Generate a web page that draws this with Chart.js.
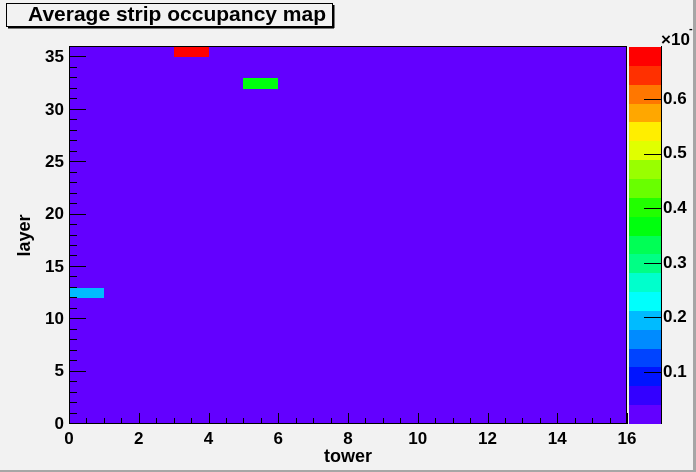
<!DOCTYPE html>
<html>
<head>
<meta charset="utf-8">
<title>Average strip occupancy map</title>
<script src="https://cdn.jsdelivr.net/npm/chart.js@4.4.1/dist/chart.umd.min.js"></script>
<style>
  html, body { margin: 0; padding: 0; background: #f2f2f2; overflow: hidden; }
  #wrap { width: 696px; height: 472px; }
</style>
</head>
<body>
<div id="wrap"><canvas id="occupancyMap" width="696" height="472"></canvas></div>
<script>
const towerRange = [0, 16];
const layerRange = [0, 36];
const towerTicks = [0, 2, 4, 6, 8, 10, 12, 14, 16];
const layerTicks = [0, 5, 10, 15, 20, 25, 30, 35];
const zTicks = [0.1, 0.2, 0.3, 0.4, 0.5, 0.6];
const zRange = [0.005, 0.695];
const nContours = 20;

// every cell sits at the floor value except these three
const baseOccupancy = 0.006;
const hotTower = [3, 5, 0];
const hotLayer = [35, 32, 12];
const hotOccupancy = [0.695, 0.36, 0.19];

const FONT = "'Liberation Sans', Arial, Helvetica, sans-serif";
Chart.defaults.font.family = FONT;
Chart.defaults.color = '#000';

// ROOT "pretty" palette (50 hues), sampled by contour like THistPainter does
function contourColor(v) {
  const dz = (zRange[1] - zRange[0]) / nContours;
  let j = Math.floor((v - zRange[0]) / dz);
  j = Math.max(0, Math.min(nContours - 1, j));
  const idx = Math.floor((j + 0.99) * 50 / nContours);
  const hue = 280 - (idx + 1) * 5.6;
  return `hsl(${hue}, 100%, 50%)`;
}

const heatmapPlugin = {
  id: 'heatmap',
  beforeDraw(chart) {
    const ctx = chart.ctx;
    ctx.save();
    ctx.fillStyle = '#f2f2f2';
    ctx.fillRect(0, 0, chart.width, chart.height);
    ctx.restore();
  },
  afterDatasetsDraw(chart) {
    const ctx = chart.ctx;
    const a = chart.chartArea;
    const {x, y, z} = chart.scales;

    function fillCell(t, l, v) {
      const x0 = Math.round(x.getPixelForValue(t));
      const x1 = Math.round(x.getPixelForValue(t + 1));
      const y0 = Math.round(y.getPixelForValue(l + 1));
      const y1 = Math.round(y.getPixelForValue(l));
      ctx.fillStyle = contourColor(v);
      ctx.fillRect(x0, y0, x1 - x0, y1 - y0);
    }

    ctx.save();
    for (let t = towerRange[0]; t < towerRange[1]; t++) {
      for (let l = layerRange[0]; l < layerRange[1]; l++) {
        fillCell(t, l, baseOccupancy);
      }
    }
    chart.data.datasets[0].data.forEach(p => fillCell(Math.floor(p.x), Math.floor(p.y), p.v));

    // frame
    ctx.strokeStyle = '#000';
    ctx.lineWidth = 1;
    ctx.strokeRect(a.left + 0.5, a.top - 0.5, a.right - a.left - 1, a.bottom - a.top);

    // ticks point inwards, ROOT style
    ctx.beginPath();
    for (let l = layerRange[0]; l <= layerRange[1]; l++) {
      const py = Math.round(y.getPixelForValue(l)) - 0.5;
      const len = l % 5 === 0 ? 17 : 8;
      ctx.moveTo(a.left, py);
      ctx.lineTo(a.left + len, py);
    }
    for (let t = towerRange[0]; t <= towerRange[1]; t += 0.5) {
      const px = Math.round(x.getPixelForValue(t)) + 0.5;
      const len = t % 2 === 0 ? 11 : 6;
      ctx.moveTo(px, a.bottom);
      ctx.lineTo(px, a.bottom - len);
    }
    ctx.stroke();

    // palette axis
    const barL = a.right + 2, barR = a.right + 34;
    const dz = (zRange[1] - zRange[0]) / nContours;
    for (let k = 0; k < nContours; k++) {
      const v0 = zRange[0] + k * dz;
      const p0 = Math.round(z.getPixelForValue(v0));
      const p1 = Math.round(z.getPixelForValue(v0 + dz));
      ctx.fillStyle = contourColor(v0 + dz / 2);
      ctx.fillRect(barL, p1, barR - barL, p0 - p1);
    }
    ctx.beginPath();
    ctx.moveTo(barR + 0.5, a.top - 1);
    ctx.lineTo(barR + 0.5, a.bottom);
    zTicks.forEach(v => {
      const py = Math.round(z.getPixelForValue(v)) + 0.5;
      ctx.moveTo(barR - 17, py);
      ctx.lineTo(barR, py);
    });
    ctx.stroke();

    ctx.fillStyle = '#000';
    ctx.textBaseline = 'alphabetic';
    ctx.textAlign = 'left';
    ctx.font = 'bold 17px ' + FONT;
    ctx.fillText('\u00d710', barR, 45);
    ctx.font = 'bold 11px ' + FONT;
    ctx.fillText('-3', 689, 32);
    ctx.restore();
  },
  afterDraw(chart) {
    const ctx = chart.ctx;
    ctx.save();
    // title box with shadow
    ctx.fillStyle = '#f2f2f2';
    ctx.fillRect(6, 3, 327, 24);
    ctx.strokeStyle = '#000';
    ctx.lineWidth = 1;
    ctx.strokeRect(6.5, 3.5, 326, 23);
    ctx.fillStyle = '#000';
    ctx.fillRect(333, 5, 1.5, 23);
    ctx.fillRect(8, 27, 326, 1.5);
    ctx.font = 'bold 21px ' + FONT;
    ctx.textBaseline = 'alphabetic';
    ctx.fillText('Average strip occupancy map', 28, 21);

    // canvas bevel
    ctx.fillStyle = '#a6a6a6';
    ctx.fillRect(chart.width - 3, 0, 3, chart.height);
    ctx.fillRect(0, chart.height - 2, chart.width, 2);
    ctx.restore();
  }
};

const cells = hotTower.map((t, i) => ({x: t + 0.5, y: hotLayer[i] + 0.5, v: hotOccupancy[i]}));

new Chart(document.getElementById('occupancyMap'), {
  type: 'scatter',
  data: {
    datasets: [{
      label: 'occupancy',
      data: cells,
      pointRadius: 0,
      pointHoverRadius: 0
    }]
  },
  options: {
    responsive: false,
    animation: false,
    events: [],
    layout: { padding: { top: 47, left: 0, right: 0, bottom: 0 } },
    plugins: {
      legend: { display: false },
      tooltip: { enabled: false },
      title: { display: false }
    },
    scales: {
      x: {
        type: 'linear',
        min: towerRange[0],
        max: towerRange[1],
        afterBuildTicks(s) { s.ticks = towerTicks.map(v => ({value: v})); },
        afterFit(s) { s.height = 48; },
        grid: { display: false, drawTicks: false },
        border: { display: false },
        ticks: {
          autoSkip: false,
          maxRotation: 0,
          padding: 5,
          font: { size: 17, weight: 'bold' }
        },
        title: {
          display: true,
          text: 'tower',
          font: { size: 18, weight: 'bold' },
          padding: { top: 0, bottom: 4 }
        }
      },
      y: {
        type: 'linear',
        position: 'left',
        min: layerRange[0],
        max: layerRange[1],
        afterBuildTicks(s) { s.ticks = layerTicks.map(v => ({value: v})); },
        afterFit(s) { s.width = 69; },
        grid: { display: false, drawTicks: false },
        border: { display: false },
        ticks: {
          padding: 5,
          font: { size: 17, weight: 'bold' }
        },
        title: {
          display: true,
          text: 'layer',
          font: { size: 18, weight: 'bold' },
          padding: { top: 14, bottom: 0 }
        }
      },
      z: {
        type: 'linear',
        position: 'right',
        min: zRange[0],
        max: zRange[1],
        afterBuildTicks(s) { s.ticks = zTicks.map(v => ({value: v})); },
        afterFit(s) { s.width = 69; },
        grid: { display: false, drawTicks: false },
        border: { display: false },
        ticks: {
          padding: 36,
          font: { size: 17, weight: 'bold' },
          callback: v => v.toFixed(1)
        }
      }
    }
  },
  plugins: [heatmapPlugin]
});
</script>
</body>
</html>
